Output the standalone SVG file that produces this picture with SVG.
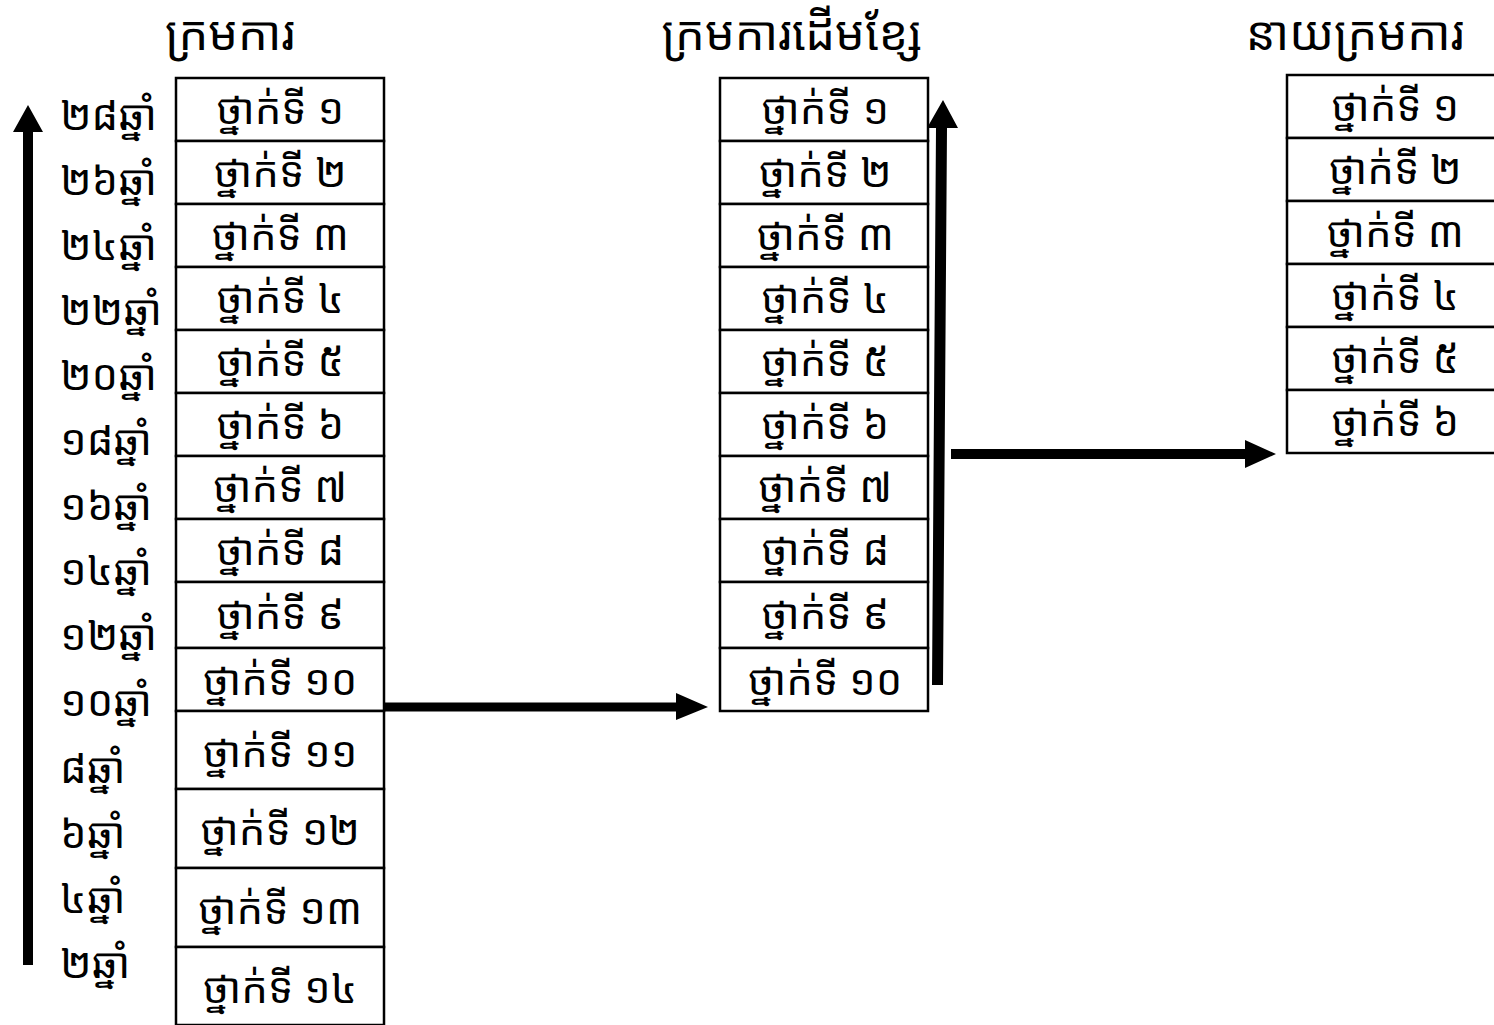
<svg xmlns="http://www.w3.org/2000/svg" width="1494" height="1025" viewBox="0 0 1494 1025">
<style>
text{font-family:"Noto Sans Khmer","Noto Serif Khmer","Khmer OS","Khmer OS System","DejaVu Sans",sans-serif;fill:#000}
.cell{fill:#fff;stroke:#000;stroke-width:2.5}
.t{font-size:42px;text-anchor:middle;dominant-baseline:central}
.h{font-size:47px;text-anchor:middle}
.y{font-size:42px;dominant-baseline:central}
</style>
<rect width="1494" height="1025" fill="#fff"/>
<g id="titles">
<text class="h" x="230" y="50">ក្រមការ</text>
<text class="h" x="792" y="50">ក្រមការដើមខ្សែ</text>
<text class="h" x="1355" y="50">នាយក្រមការ</text>
</g>
<g id="years">
<text class="y" x="60" y="113">២៨ឆ្នាំ</text>
<text class="y" x="60" y="178">២៦ឆ្នាំ</text>
<text class="y" x="60" y="243">២៤ឆ្នាំ</text>
<text class="y" x="60" y="308">២២ឆ្នាំ</text>
<text class="y" x="60" y="373">២០ឆ្នាំ</text>
<text class="y" x="60" y="438">១៨ឆ្នាំ</text>
<text class="y" x="60" y="503">១៦ឆ្នាំ</text>
<text class="y" x="60" y="568">១៤ឆ្នាំ</text>
<text class="y" x="60" y="633">១២ឆ្នាំ</text>
<text class="y" x="60" y="699">១០ឆ្នាំ</text>
<text class="y" x="60" y="766">៨ឆ្នាំ</text>
<text class="y" x="60" y="831">៦ឆ្នាំ</text>
<text class="y" x="60" y="896">៤ឆ្នាំ</text>
<text class="y" x="60" y="961">២ឆ្នាំ</text>
</g>
<g id="col1">
<g id="c1r1"><rect class="cell" x="176" y="78" width="208" height="63"/><text class="t" x="280" y="107">ថ្នាក់ទី ១</text></g>
<g id="c1r2"><rect class="cell" x="176" y="141" width="208" height="63"/><text class="t" x="280" y="170">ថ្នាក់ទី ២</text></g>
<g id="c1r3"><rect class="cell" x="176" y="204" width="208" height="63"/><text class="t" x="280" y="233">ថ្នាក់ទី ៣</text></g>
<g id="c1r4"><rect class="cell" x="176" y="267" width="208" height="63"/><text class="t" x="280" y="296">ថ្នាក់ទី ៤</text></g>
<g id="c1r5"><rect class="cell" x="176" y="330" width="208" height="63"/><text class="t" x="280" y="359">ថ្នាក់ទី ៥</text></g>
<g id="c1r6"><rect class="cell" x="176" y="393" width="208" height="63"/><text class="t" x="280" y="422">ថ្នាក់ទី ៦</text></g>
<g id="c1r7"><rect class="cell" x="176" y="456" width="208" height="63"/><text class="t" x="280" y="485">ថ្នាក់ទី ៧</text></g>
<g id="c1r8"><rect class="cell" x="176" y="519" width="208" height="63"/><text class="t" x="280" y="548">ថ្នាក់ទី ៨</text></g>
<g id="c1r9"><rect class="cell" x="176" y="582" width="208" height="66"/><text class="t" x="280" y="612">ថ្នាក់ទី ៩</text></g>
<g id="c1r10"><rect class="cell" x="176" y="648" width="208" height="63"/><text class="t" x="280" y="678">ថ្នាក់ទី ១០</text></g>
<g id="c1r11"><rect class="cell" x="176" y="711" width="208" height="78"/><text class="t" x="280" y="750">ថ្នាក់ទី ១១</text></g>
<g id="c1r12"><rect class="cell" x="176" y="789" width="208" height="79"/><text class="t" x="280" y="828">ថ្នាក់ទី ១២</text></g>
<g id="c1r13"><rect class="cell" x="176" y="868" width="208" height="79"/><text class="t" x="280" y="907">ថ្នាក់ទី ១៣</text></g>
<g id="c1r14"><rect class="cell" x="176" y="947" width="208" height="78"/><text class="t" x="280" y="986">ថ្នាក់ទី ១៤</text></g>
</g>
<g id="col2">
<g id="c2r1"><rect class="cell" x="720" y="78" width="208" height="63"/><text class="t" x="825" y="107">ថ្នាក់ទី ១</text></g>
<g id="c2r2"><rect class="cell" x="720" y="141" width="208" height="63"/><text class="t" x="825" y="170">ថ្នាក់ទី ២</text></g>
<g id="c2r3"><rect class="cell" x="720" y="204" width="208" height="63"/><text class="t" x="825" y="233">ថ្នាក់ទី ៣</text></g>
<g id="c2r4"><rect class="cell" x="720" y="267" width="208" height="63"/><text class="t" x="825" y="296">ថ្នាក់ទី ៤</text></g>
<g id="c2r5"><rect class="cell" x="720" y="330" width="208" height="63"/><text class="t" x="825" y="359">ថ្នាក់ទី ៥</text></g>
<g id="c2r6"><rect class="cell" x="720" y="393" width="208" height="63"/><text class="t" x="825" y="422">ថ្នាក់ទី ៦</text></g>
<g id="c2r7"><rect class="cell" x="720" y="456" width="208" height="63"/><text class="t" x="825" y="485">ថ្នាក់ទី ៧</text></g>
<g id="c2r8"><rect class="cell" x="720" y="519" width="208" height="63"/><text class="t" x="825" y="548">ថ្នាក់ទី ៨</text></g>
<g id="c2r9"><rect class="cell" x="720" y="582" width="208" height="66"/><text class="t" x="825" y="612">ថ្នាក់ទី ៩</text></g>
<g id="c2r10"><rect class="cell" x="720" y="648" width="208" height="63"/><text class="t" x="825" y="678">ថ្នាក់ទី ១០</text></g>
</g>
<g id="col3">
<g id="c3r1"><rect class="cell" x="1287" y="75" width="210" height="63"/><text class="t" x="1395" y="104">ថ្នាក់ទី ១</text></g>
<g id="c3r2"><rect class="cell" x="1287" y="138" width="210" height="63"/><text class="t" x="1395" y="167">ថ្នាក់ទី ២</text></g>
<g id="c3r3"><rect class="cell" x="1287" y="201" width="210" height="63"/><text class="t" x="1395" y="230">ថ្នាក់ទី ៣</text></g>
<g id="c3r4"><rect class="cell" x="1287" y="264" width="210" height="63"/><text class="t" x="1395" y="293">ថ្នាក់ទី ៤</text></g>
<g id="c3r5"><rect class="cell" x="1287" y="327" width="210" height="63"/><text class="t" x="1395" y="356">ថ្នាក់ទី ៥</text></g>
<g id="c3r6"><rect class="cell" x="1287" y="390" width="210" height="63"/><text class="t" x="1395" y="419">ថ្នាក់ទី ៦</text></g>
</g>
<g id="connectors" fill="#000">
<polygon points="23,965 33,965 33,132 43,132 28,105 13,132 23,132"/>
<polygon points="384,702.5 676,702.5 676,693 708,707 676,720 676,711.5 384,711.5"/>
<polygon points="932,685 943,685 947,128 958,128 943,100 927,128 936,128"/>
<polygon points="951,449 1245,449 1245,440 1276,454 1245,468 1245,459 951,459"/>
</g>
</svg>
